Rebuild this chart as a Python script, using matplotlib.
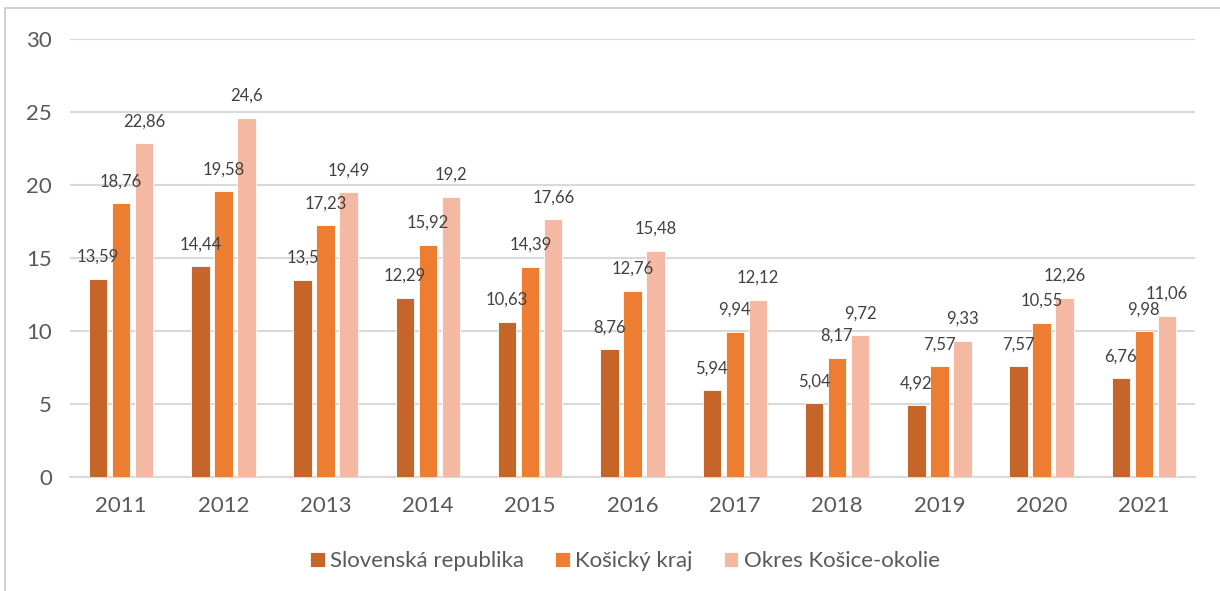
import matplotlib
matplotlib.use("Agg")
import matplotlib.pyplot as plt
import numpy as np
from matplotlib.patches import Rectangle

years = ["2011", "2012", "2013", "2014", "2015", "2016", "2017", "2018", "2019", "2020", "2021"]
sr = [13.59, 14.44, 13.5, 12.29, 10.63, 8.76, 5.94, 5.04, 4.92, 7.57, 6.76]
kraj = [18.76, 19.58, 17.23, 15.92, 14.39, 12.76, 9.94, 8.17, 7.57, 10.55, 9.98]
okres = [22.86, 24.6, 19.49, 19.2, 17.66, 15.48, 12.12, 9.72, 9.33, 12.26, 11.06]
series_names = ["Slovenská republika", "Košický kraj", "Okres Košice-okolie"]
colors = ["#C5652A", "#ED7D31", "#F4B8A3"]

plt.rcParams['font.family'] = ['Lato', 'DejaVu Sans']
W, H = 1220, 591
fig = plt.figure(figsize=(W / 100, H / 100), dpi=100)
ax = fig.add_axes([70 / W, 1 - 477 / H, 1125 / W, (477 - 39) / H])

# outer frame
fig.patches.append(Rectangle((5 / W, -0.05), 1.2, 1 - 8 / H + 0.05, transform=fig.transFigure,
                             fill=False, edgecolor="#c8c8c8", linewidth=1.2))

x = np.arange(len(years))
bw = 0.18
step = 0.225
for i, (vals, c) in enumerate(zip([sr, kraj, okres], colors)):
    pos = x + (i - 1) * step
    ax.bar(pos, vals, width=bw, color=c, edgecolor="white", linewidth=0.6,
           label=series_names[i], zorder=3)
    for xp, v in zip(pos, vals):
        lab = f"{v:g}".replace(".", ",")
        ax.annotate(lab, (xp, v), xytext=(0, 15.8), textcoords="offset points",
                    ha="center", va="center", fontsize=12, color="#404040", zorder=4)

ax.set_ylim(0, 30)
ax.set_xlim(-0.5, len(years) - 0.5)
ax.set_yticks([0, 5, 10, 15, 20, 25, 30])
ax.set_xticks(x)
ax.set_xticklabels(years)
ax.yaxis.grid(True, color="#d9d9d9", linewidth=1.5, zorder=0)
ax.set_axisbelow(True)
for s in ["top", "right", "left"]:
    ax.spines[s].set_visible(False)
ax.spines["bottom"].set_color("#d9d9d9")
ax.spines["bottom"].set_linewidth(1.5)
ax.tick_params(axis="both", length=0, labelsize=16, labelcolor="#595959")
ax.tick_params(axis="y", pad=13)
ax.tick_params(axis="x", pad=14)

leg = fig.legend(loc="center", bbox_to_anchor=(625 / W, 1 - 561 / H), ncol=3, frameon=False,
                 fontsize=16, handlelength=0.65, handleheight=0.65, handletextpad=0.25,
                 columnspacing=1.4, labelcolor="#595959")

fig.savefig("out.png", dpi=100)
